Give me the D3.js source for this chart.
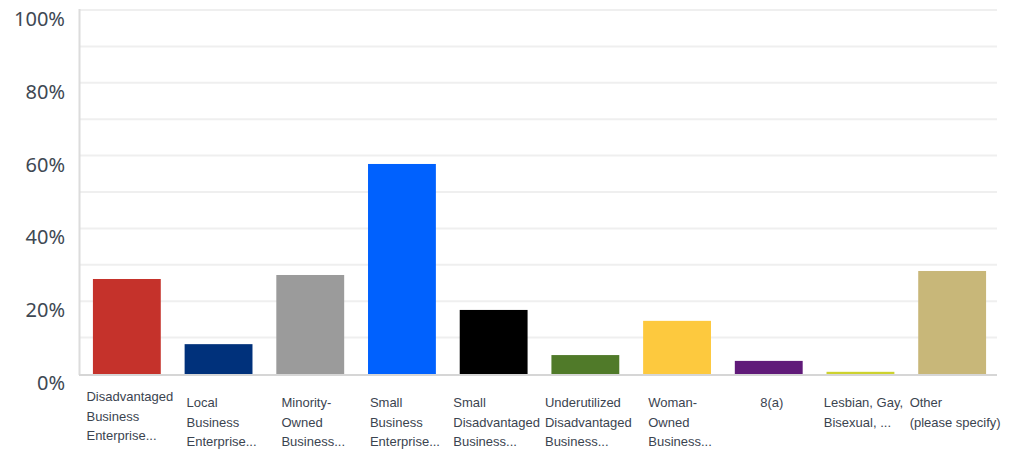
<!DOCTYPE html>
<html>
<head>
<meta charset="utf-8">
<script src="https://cdn.jsdelivr.net/npm/d3@7"></script>
<style>
  html, body { margin: 0; padding: 0; background: #fff; }
  svg { display: block; }
</style>
</head>
<body>
<div id="chart"></div>
<script>
// answer choices (label lines as shown under each bar)
const categories = [
  ["Disadvantaged", "Business", "Enterprise..."],
  ["Local", "Business", "Enterprise..."],
  ["Minority-", "Owned", "Business..."],
  ["Small", "Business", "Enterprise..."],
  ["Small", "Disadvantaged", "Business..."],
  ["Underutilized", "Disadvantaged", "Business..."],
  ["Woman-", "Owned", "Business..."],
  ["8(a)"],
  ["Lesbian, Gay,", "Bisexual, ..."],
  ["Other", "(please specify)"]
]
const values = [26.1, 8.2, 27.2, 57.7, 17.6, 5.2, 14.6, 3.6, 0.6, 28.3]
const colors = ["#c5322b", "#00317b", "#9b9b9b", "#0061fe", "#000000",
                "#507a29", "#fdc93e", "#601a79", "#cdd22f", "#c8b779"]
const yTicks = [0, 20, 40, 60, 80, 100]
const gridTicks = d3.range(10, 101, 10)

let width = 1011, height = 449
let margin = {left: 80, right: 14, top: 10, bottom: 75}

let svg = d3.select("#chart").append("svg")
  .attr("width", width)
  .attr("height", height)

let x = d3.scaleBand()
  .domain(d3.range(categories.length))
  .range([margin.left + 1, width - margin.right + 1])
  .paddingInner(0.26)
  .paddingOuter(0.13)

let y = d3.scaleLinear()
  .domain([0, 100])
  .range([height - margin.bottom, margin.top])

// gridlines
svg.append("g").attr("id", "grid")
  .selectAll("line")
  .data(gridTicks)
  .enter()
  .append("line")
  .attr("x1", margin.left)
  .attr("x2", width - margin.right)
  .attr("y1", d => y(d))
  .attr("y2", d => y(d))
  .attr("stroke", "#efefef")
  .attr("stroke-width", 2)

// y tick labels (sit a little below their gridline)
svg.append("g").attr("id", "y-labels")
  .selectAll("text")
  .data(yTicks)
  .enter()
  .append("text")
  .attr("x", 65)
  .attr("y", d => y(d) + 16)
  .attr("text-anchor", "end")
  .attr("font-family", "'Noto Sans', sans-serif")
  .attr("font-size", 20)
  .attr("fill", "#3e4853")
  .text(d => d + "%")

// bars
svg.append("g").attr("id", "bars")
  .selectAll("rect")
  .data(values)
  .enter()
  .append("rect")
  .attr("x", (d, i) => x(i))
  .attr("width", x.bandwidth())
  .attr("y", d => y(d))
  .attr("height", d => y(0) - y(d))
  .attr("fill", (d, i) => colors[i])

// axis lines
svg.append("line")
  .attr("x1", margin.left - 0.5).attr("x2", margin.left - 0.5)
  .attr("y1", margin.top - 1).attr("y2", y(0) + 1)
  .attr("stroke", "#dcdcdc")
  .attr("stroke-width", 2)

svg.append("line")
  .attr("x1", margin.left - 1).attr("x2", width - margin.right)
  .attr("y1", y(0) + 1).attr("y2", y(0) + 1)
  .attr("stroke", "#d6d6d6")
  .attr("stroke-width", 2)

// category labels: block centred under the bar, lines left aligned
let labels = svg.append("g").attr("id", "x-labels")
  .selectAll("text")
  .data(categories)
  .enter()
  .append("text")
  .attr("font-family", "'Liberation Sans', Arial, sans-serif")
  .attr("font-size", 13)
  .attr("fill", "#3b4450")

labels.selectAll("tspan")
  .data(d => d)
  .enter()
  .append("tspan")
  .attr("dy", (d, i) => i == 0 ? 0 : 19.5)
  .text(d => d)

labels.each(function(d, i) {
  let t = d3.select(this)
  let w = d3.max(t.selectAll("tspan").nodes(), n => n.getComputedTextLength())
  let left = x(i) + x.bandwidth() / 2 - w / 2 + 3
  let top = i == 0 ? 401 : 407
  t.attr("y", top)
  t.selectAll("tspan").attr("x", left)
})
</script>
</body>
</html>
